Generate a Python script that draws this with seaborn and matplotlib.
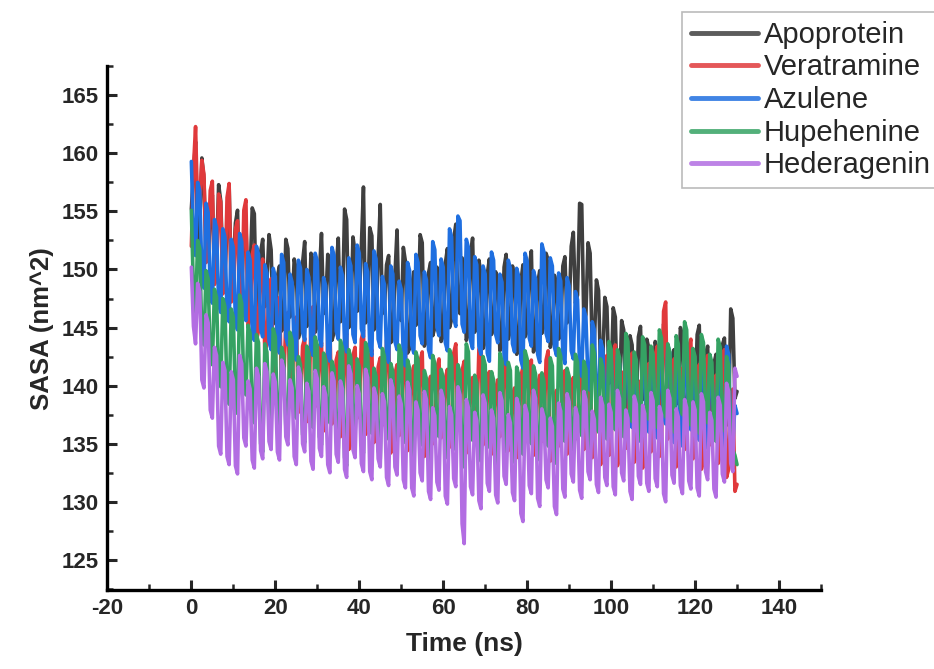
import matplotlib

matplotlib.use("Agg")
import matplotlib.pyplot as plt
import pandas as pd
import seaborn as sns
from matplotlib.ticker import MultipleLocator

# SASA trajectories, 0.5 ns steps from 0 to 130 ns
TIME_NS = [i * 0.5 for i in range(261)]

APOPROTEIN = [
    155.2, 158.4, 161.0, 152.1, 153.5, 159.6, 157.8, 151.3, 150.9, 154.7,
    156.4, 149.5, 151.2, 157.3, 155.9, 150.2, 149.8, 153.6, 157.2, 148.8,
    150.5, 154.0, 155.1, 147.6, 148.7, 152.8, 153.9, 147.9, 149.6, 155.3,
    154.8, 146.4, 147.2, 151.5, 152.6, 146.8, 148.9, 153.0, 151.7, 145.3,
    146.1, 149.4, 150.3, 144.7, 145.4, 152.6, 151.8, 145.9, 146.7, 150.9,
    149.9, 144.1, 144.8, 150.6, 152.4, 145.1, 146.3, 151.4, 150.8, 144.6,
    145.2, 149.7, 153.1, 146.2, 147.0, 151.3, 150.2, 143.9, 144.6, 150.1,
    152.7, 145.5, 146.8, 155.2, 154.3, 145.0, 145.9, 152.8, 151.5, 146.4,
    147.2, 152.0, 157.1, 145.4, 146.0, 153.6, 152.9, 144.8, 145.3, 151.1,
    155.6, 146.2, 146.7, 150.4, 151.2, 143.7, 144.1, 149.5, 153.4, 145.8,
    145.6, 151.9, 150.7, 142.8, 143.2, 148.5, 149.8, 145.2, 146.1, 153.0,
    152.3, 143.4, 143.9, 149.7, 150.6, 144.3, 145.0, 150.2, 149.1, 143.8,
    144.3, 150.5, 151.8, 145.0, 145.7, 152.6, 153.9, 147.1, 146.2, 151.0,
    150.1, 143.9, 144.5, 151.2, 152.7, 144.6, 145.3, 150.8, 149.6, 143.2,
    143.8, 149.6, 150.9, 144.4, 145.1, 149.8, 148.7, 143.0, 143.6, 150.2,
    151.3, 144.0, 144.8, 150.3, 149.2, 142.7, 143.1, 148.9, 150.4, 144.2,
    144.7, 150.2, 151.6, 142.9, 143.4, 148.8, 149.9, 144.5, 145.2, 151.4,
    150.8, 143.3, 143.9, 149.5, 148.6, 144.0, 144.6, 150.3, 151.1, 145.4,
    146.3, 152.0, 153.2, 147.1, 147.8, 155.7, 155.6, 145.5, 146.1, 152.3,
    151.4, 143.0, 143.5, 149.1, 148.2, 141.3, 141.9, 147.6, 146.8, 140.2,
    140.6, 146.7, 145.9, 138.6, 139.2, 145.6, 144.8, 138.1, 138.7, 144.3,
    143.5, 137.4, 137.9, 144.2, 145.1, 138.8, 139.4, 144.0, 143.2, 137.0,
    137.6, 143.8, 142.9, 138.1, 138.8, 145.3, 144.6, 136.7, 137.2, 142.4,
    143.1, 138.4, 139.0, 145.0, 144.3, 136.2, 136.8, 141.7, 142.5, 137.5,
    138.1, 144.4, 145.2, 136.9, 137.5, 142.6, 143.4, 136.3, 136.9, 141.9,
    142.7, 137.6, 138.3, 143.5, 144.1, 136.6, 137.2, 146.6, 145.8, 138.9,
    139.5,
]
VERATRAMINE = [
    152.0, 158.7, 162.3, 155.0, 156.1, 159.4, 158.2, 150.6, 151.4, 156.8,
    157.6, 148.7, 149.3, 156.5, 155.8, 147.9, 148.6, 156.2, 157.4, 147.2,
    147.9, 153.5, 154.2, 145.8, 146.5, 155.1, 156.0, 145.1, 145.8, 151.3,
    152.1, 143.9, 144.7, 150.2, 150.9, 142.8, 143.6, 148.5, 149.2, 141.1,
    141.8, 146.9, 147.6, 139.6, 140.2, 145.5, 146.3, 138.8, 139.5, 145.1,
    145.9, 137.7, 138.4, 143.4, 144.1, 136.9, 137.6, 145.9, 146.8, 138.2,
    138.9, 142.9, 143.7, 136.1, 136.8, 144.4, 145.2, 136.7, 137.4, 142.2,
    142.9, 135.6, 136.2, 143.8, 144.5, 134.5, 135.1, 142.6, 143.3, 137.2,
    137.9, 144.0, 144.8, 135.8, 136.5, 142.4, 143.1, 135.1, 135.8, 141.6,
    142.4, 136.6, 137.2, 143.9, 144.6, 134.2, 134.9, 141.0, 141.8, 135.7,
    136.4, 142.5, 143.2, 134.4, 135.1, 140.9, 141.7, 136.1, 136.8, 142.1,
    142.9, 133.9, 134.6, 140.1, 140.8, 135.0, 135.7, 141.5, 142.3, 135.5,
    136.2, 140.6, 141.4, 134.7, 135.3, 142.8, 143.6, 136.4, 137.1, 141.3,
    142.1, 134.2, 134.9, 139.9, 140.7, 135.8, 136.5, 143.1, 143.9, 134.9,
    135.6, 140.4, 141.2, 134.1, 134.8, 139.7, 140.5, 135.6, 136.3, 141.9,
    142.7, 134.4, 135.1, 139.0, 139.8, 133.8, 134.4, 140.8, 141.6, 135.3,
    136.0, 141.5, 142.2, 134.0, 134.7, 140.1, 140.9, 135.2, 135.8, 142.2,
    143.0, 133.5, 134.2, 138.9, 139.6, 134.8, 135.5, 140.6, 141.3, 134.1,
    134.8, 139.9, 140.7, 135.4, 136.1, 141.6, 142.4, 134.5, 135.2, 141.0,
    141.8, 133.8, 134.5, 139.5, 140.2, 133.2, 133.9, 141.8, 142.6, 134.0,
    134.7, 142.7, 143.5, 133.1, 133.8, 140.5, 141.2, 134.6, 135.3, 142.0,
    142.8, 133.4, 134.1, 139.7, 140.4, 132.9, 133.6, 141.1, 141.9, 134.3,
    135.0, 142.6, 143.4, 133.9, 134.6, 146.4, 147.2, 135.4, 136.1, 141.5,
    142.3, 133.0, 133.7, 140.8, 141.5, 134.5, 135.2, 143.3, 144.0, 133.7,
    134.4, 141.0, 141.8, 132.8, 133.5, 141.8, 142.6, 134.9, 135.6, 140.1,
    140.9, 133.3, 134.0, 142.4, 143.1, 132.1, 132.8, 138.9, 139.7, 130.9,
    131.5,
]
AZULENE = [
    159.3, 153.0, 151.2, 157.5, 156.8, 149.6, 148.4, 155.7, 154.9, 148.0,
    147.1, 154.3, 153.6, 147.0, 146.3, 153.5, 152.8, 146.2, 145.5, 152.6,
    151.9, 145.5, 144.8, 153.1, 152.4, 146.3, 145.6, 151.5, 150.8, 144.6,
    143.9, 152.0, 151.3, 144.9, 144.2, 150.4, 149.7, 143.8, 143.1, 150.1,
    149.4, 143.5, 142.8, 151.3, 150.6, 144.2, 143.5, 149.6, 148.9, 142.9,
    142.2, 150.8, 150.1, 144.6, 143.9, 150.0, 149.3, 143.3, 142.6, 151.4,
    150.7, 144.1, 143.4, 149.3, 148.6, 142.8, 142.1, 151.9, 151.2, 144.7,
    144.0, 150.2, 149.5, 143.6, 142.9, 151.0, 150.3, 144.4, 143.7, 152.1,
    151.4, 144.9, 144.2, 150.5, 149.8, 143.3, 142.6, 151.6, 150.9, 144.0,
    143.3, 149.4, 148.7, 142.7, 142.0, 150.3, 149.6, 143.8, 143.1, 149.0,
    148.3, 142.4, 141.7, 150.6, 149.9, 143.5, 142.8, 151.3, 150.6, 144.3,
    143.6, 149.8, 149.1, 143.1, 142.4, 152.4, 151.7, 145.0, 144.3, 150.9,
    150.2, 143.7, 143.0, 153.5, 152.8, 145.8, 145.1, 154.6, 154.2, 145.3,
    144.6, 152.6, 151.9, 143.9, 143.2, 151.1, 150.4, 143.4, 142.7, 150.3,
    149.6, 142.8, 142.1, 151.5, 150.8, 144.4, 143.7, 149.6, 148.9, 142.5,
    141.8, 150.8, 150.1, 143.6, 142.9, 150.1, 149.4, 142.2, 141.5, 151.4,
    150.7, 144.1, 143.4, 149.9, 149.2, 142.7, 142.0, 152.2, 151.5, 144.5,
    143.8, 151.0, 150.3, 143.3, 142.6, 149.7, 149.0, 142.6, 141.9, 149.3,
    148.6, 143.0, 142.3, 148.1, 147.4, 141.5, 140.8, 146.6, 145.9, 140.3,
    139.6, 145.5, 144.8, 139.4, 138.7, 143.9, 143.2, 138.6, 137.9, 143.3,
    142.6, 137.5, 136.8, 142.6, 141.9, 136.4, 135.7, 143.0, 142.3, 137.1,
    136.4, 141.5, 140.8, 135.9, 135.2, 142.4, 141.7, 136.7, 136.0, 142.8,
    142.1, 136.2, 135.5, 142.0, 141.3, 137.4, 136.7, 143.5, 142.8, 135.8,
    135.1, 141.3, 140.6, 135.5, 134.8, 142.6, 141.9, 136.9, 136.2, 141.2,
    140.5, 136.0, 135.3, 142.7, 142.0, 135.3, 134.6, 141.9, 141.2, 136.6,
    135.9, 141.0, 140.3, 134.9, 134.2, 143.4, 142.7, 135.7, 135.0, 138.3,
    137.6,
]
HUPEHENINE = [
    155.1, 148.0, 146.2, 152.5, 151.8, 144.2, 143.5, 149.9, 149.2, 142.5,
    141.8, 148.3, 147.6, 140.6, 139.9, 147.5, 146.8, 139.1, 138.4, 146.6,
    145.9, 138.3, 137.6, 147.8, 147.1, 139.9, 139.2, 145.2, 144.5, 137.5,
    136.8, 144.4, 143.7, 135.0, 134.3, 143.6, 142.9, 137.8, 137.1, 144.9,
    144.2, 137.2, 136.5, 143.3, 142.6, 136.5, 135.8, 144.6, 143.9, 137.9,
    137.2, 142.5, 141.8, 135.8, 135.1, 143.4, 142.7, 137.1, 136.4, 144.2,
    143.5, 135.6, 134.9, 142.8, 142.1, 137.5, 136.8, 142.1, 141.4, 135.3,
    134.6, 143.9, 143.2, 133.8, 133.1, 143.1, 142.4, 136.4, 135.7, 142.3,
    141.6, 134.9, 134.2, 143.7, 143.0, 136.6, 135.9, 141.5, 140.8, 134.4,
    133.7, 143.2, 142.5, 136.1, 135.4, 141.9, 141.2, 135.5, 134.8, 143.5,
    142.8, 135.8, 135.1, 142.2, 141.5, 134.3, 133.6, 142.9, 142.2, 135.6,
    134.9, 141.3, 140.6, 133.9, 133.2, 142.6, 141.9, 136.3, 135.6, 141.4,
    140.7, 134.5, 133.8, 143.1, 142.4, 135.2, 134.5, 141.8, 141.1, 133.7,
    133.0, 143.6, 142.9, 136.0, 135.3, 140.9, 140.2, 134.2, 133.5, 142.5,
    141.8, 135.4, 134.7, 141.2, 140.5, 133.6, 132.9, 142.8, 142.1, 135.0,
    134.3, 142.0, 141.3, 134.1, 133.4, 141.6, 140.9, 134.8, 134.1, 143.0,
    142.3, 135.7, 135.0, 141.7, 141.0, 134.3, 133.6, 141.1, 140.4, 135.5,
    134.8, 142.4, 141.7, 134.0, 133.3, 143.2, 142.5, 135.9, 135.2, 141.5,
    140.8, 135.1, 134.4, 142.7, 142.0, 136.4, 135.7, 142.1, 141.4, 134.8,
    134.1, 143.5, 142.8, 136.7, 136.0, 142.3, 141.6, 136.1, 135.4, 143.8,
    143.1, 136.9, 136.2, 143.1, 142.4, 136.3, 135.6, 144.5, 143.8, 137.6,
    136.9, 142.9, 142.2, 136.0, 135.3, 144.2, 143.5, 137.8, 137.1, 143.4,
    142.7, 137.1, 136.4, 144.8, 144.1, 138.0, 137.3, 143.6, 142.9, 136.7,
    136.0, 144.3, 143.6, 138.2, 137.5, 145.5, 144.8, 137.3, 136.6, 143.2,
    142.5, 136.6, 135.9, 144.4, 143.7, 137.5, 136.8, 142.7, 142.0, 135.9,
    135.2, 144.0, 143.3, 136.8, 136.1, 142.5, 141.8, 135.2, 134.5, 134.0,
    133.2,
]
HEDERAGENIN = [
    150.2, 145.1, 143.6, 148.8, 148.1, 140.5, 139.8, 146.1, 145.4, 137.9,
    137.2, 143.3, 142.6, 134.8, 134.1, 142.0, 141.3, 133.9, 133.2, 141.2,
    140.5, 133.1, 132.4, 142.6, 141.9, 135.5, 134.8, 140.4, 139.7, 133.6,
    132.9, 141.5, 140.8, 134.4, 133.7, 141.9, 141.2, 135.2, 134.5, 141.0,
    140.3, 134.3, 133.6, 142.2, 141.5, 135.6, 134.9, 140.5, 139.8, 133.9,
    133.2, 141.6, 140.9, 135.0, 134.3, 140.2, 139.5, 133.5, 132.8, 141.3,
    140.6, 134.6, 133.9, 139.9, 139.2, 133.2, 132.5, 141.1, 140.4, 134.1,
    133.4, 140.4, 139.7, 132.8, 132.1, 141.7, 141.0, 134.5, 133.8, 140.0,
    139.3, 133.3, 132.6, 141.4, 140.7, 132.6, 131.9, 139.8, 139.1, 133.7,
    133.0, 139.3, 138.6, 132.1, 131.4, 140.5, 139.8, 133.0, 132.3, 139.1,
    138.4, 131.9, 131.2, 140.3, 139.6, 131.2, 130.5, 138.6, 137.9, 132.5,
    131.8, 139.5, 138.8, 130.9, 130.2, 138.1, 137.4, 131.7, 131.0, 139.6,
    138.9, 130.5, 129.8, 138.2, 137.5, 132.0, 131.3, 139.9, 139.2, 128.1,
    126.4, 138.8, 138.1, 131.3, 130.6, 137.7, 137.0, 130.1, 129.4, 139.2,
    138.5, 131.6, 130.9, 137.9, 137.2, 130.6, 129.9, 139.4, 138.7, 132.2,
    131.5, 137.5, 136.8, 130.8, 130.1, 138.9, 138.2, 129.0, 128.3, 138.3,
    137.6, 131.4, 130.7, 139.6, 138.9, 130.3, 129.6, 138.0, 137.3, 131.9,
    131.2, 137.2, 136.5, 129.6, 128.9, 138.5, 137.8, 131.1, 130.4, 139.3,
    138.6, 132.4, 131.7, 138.1, 137.4, 131.0, 130.3, 139.5, 138.8, 132.6,
    131.9, 137.8, 137.1, 131.5, 130.8, 139.0, 138.3, 132.1, 131.4, 138.4,
    137.7, 131.3, 130.6, 139.6, 138.9, 132.5, 131.8, 137.9, 137.2, 130.9,
    130.2, 139.1, 138.4, 132.2, 131.5, 138.3, 137.6, 131.6, 130.9, 139.4,
    138.7, 132.0, 131.3, 138.2, 137.5, 130.7, 130.0, 139.6, 138.9, 132.3,
    131.6, 138.0, 137.3, 131.4, 130.7, 138.8, 138.1, 131.8, 131.1, 138.6,
    137.9, 131.2, 130.5, 139.3, 138.6, 132.6, 131.9, 137.7, 137.0, 131.1,
    130.4, 139.0, 138.3, 132.4, 131.7, 140.2, 139.5, 133.3, 132.6, 141.5,
    140.8,
]

SERIES = {
    "Apoprotein": APOPROTEIN,
    "Veratramine": VERATRAMINE,
    "Azulene": AZULENE,
    "Hupehenine": HUPEHENINE,
    "Hederagenin": HEDERAGENIN,
}
COLORS = ["#3f3f3f", "#e0393b", "#1f6fe0", "#35a263", "#b26de2"]

frames = [pd.DataFrame({"time": TIME_NS, "sasa": v, "system": k}) for k, v in SERIES.items()]
df = pd.concat(frames, ignore_index=True)

sns.set_style("ticks")
plt.rcParams["font.family"] = ["Liberation Sans", "DejaVu Sans"]
plt.rcParams["axes.unicode_minus"] = False

fig = plt.figure(figsize=(9.34, 6.69), dpi=100)
ax = fig.add_axes([0.115, 0.118, 0.764, 0.783])

sns.lineplot(
    data=df, x="time", y="sasa", hue="system", palette=COLORS,
    estimator=None, sort=False, linewidth=2.6, legend=False, ax=ax,
)

ax.set_xlim(-20, 150)
ax.set_ylim(122.4, 167.5)
ax.xaxis.set_major_locator(MultipleLocator(20))
ax.xaxis.set_minor_locator(MultipleLocator(10))
ax.yaxis.set_major_locator(MultipleLocator(5))
ax.yaxis.set_minor_locator(MultipleLocator(2.5))
ax.tick_params(which="major", direction="in", length=7, width=2.2, labelsize=16, pad=6)
ax.tick_params(which="minor", direction="in", length=4, width=1.8)
for lab in ax.get_xticklabels() + ax.get_yticklabels():
    lab.set_fontweight("bold")

sns.despine(ax=ax)
for side in ("left", "bottom"):
    ax.spines[side].set_linewidth(2.4)
    ax.spines[side].set_color("black")

ax.set_xlabel("Time (ns)", fontsize=19, fontweight="bold", labelpad=9)
ax.set_ylabel("SASA (nm^2)", fontsize=18.5, fontweight="bold", labelpad=6)

handles = [plt.Line2D([], [], color=c, linewidth=3.5, alpha=0.85) for c in COLORS]
leg = fig.legend(
    handles, list(SERIES.keys()), loc="upper left", bbox_to_anchor=(0.730, 0.982),
    fontsize=21, frameon=True, fancybox=False, handlelength=2.3, handletextpad=0.2,
    labelspacing=0.16, borderpad=0.3, borderaxespad=0,
)
leg.get_frame().set_edgecolor("#aaaaaa")
leg.get_frame().set_linewidth(1.2)

fig.savefig("out.png", dpi=100)
